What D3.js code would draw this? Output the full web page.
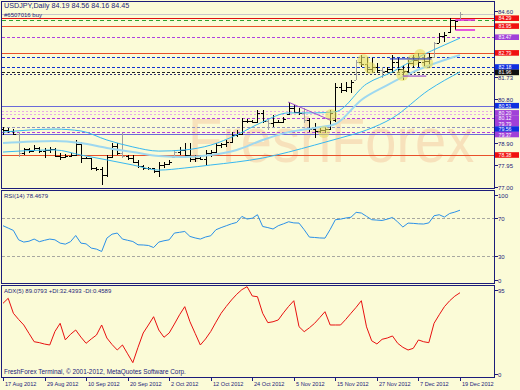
<!DOCTYPE html>
<html><head><meta charset="utf-8">
<script src="https://cdn.jsdelivr.net/npm/d3@7"></script>
<style>
html,body{margin:0;padding:0;background:#fbfbd7;}
svg{display:block;font-family:"Liberation Sans",Arial,sans-serif;}
</style></head><body>
<svg id="chart" width="520" height="390"></svg>
<script>
// ---- values ----
const dateLabels = ["17 Aug 2012","29 Aug 2012","10 Sep 2012","20 Sep 2012","2 Oct 2012","12 Oct 2012",
  "24 Oct 2012","5 Nov 2012","15 Nov 2012","27 Nov 2012","7 Dec 2012","19 Dec 2012"];

// daily bars: open, high, low, close
const ohlc = [
  [79.50,79.59,79.25,79.45],[79.45,79.55,79.33,79.40],[79.40,79.50,79.25,79.30],[79.30,79.37,78.30,78.45],
  [78.45,78.68,78.38,78.62],[78.62,78.68,78.47,78.55],[78.55,78.81,78.55,78.70],[78.70,78.73,78.47,78.55],
  [78.55,78.68,78.25,78.60],[78.60,78.74,78.48,78.65],[78.65,78.68,78.30,78.35],[78.35,78.47,78.17,78.30],
  [78.30,78.42,78.25,78.35],[78.35,78.47,78.30,78.40],[78.40,79.03,78.34,78.85],[78.85,78.94,78.04,78.25],
  [78.25,78.30,78.21,78.25],[78.25,78.25,77.73,77.80],[77.80,77.86,77.69,77.78],[77.78,77.86,77.09,77.50],
  [77.50,78.38,77.43,78.30],[78.30,78.90,78.25,78.75],[78.75,78.90,78.38,78.45],[78.45,79.33,78.25,78.35],
  [78.35,78.38,78.17,78.25],[78.25,78.38,78.04,78.10],[78.10,78.17,77.82,77.90],[77.90,77.95,77.73,77.80],
  [77.80,77.86,77.73,77.80],[77.80,77.82,77.60,77.70],[77.70,78.08,77.43,77.95],[77.95,78.08,77.82,78.00],
  [78.00,78.17,77.95,78.10],[78.30,78.60,78.25,78.50],[78.50,78.73,78.38,78.60],[78.60,78.90,78.30,78.40],
  [78.40,78.90,78.08,78.20],[78.20,78.38,78.08,78.25],[78.25,78.30,78.17,78.22],[78.22,78.60,77.95,78.45],
  [78.45,78.60,78.30,78.50],[78.50,78.90,78.47,78.80],[78.80,78.90,78.68,78.85],[78.85,79.03,78.73,78.95],
  [78.95,79.37,78.90,79.25],[79.25,79.46,79.16,79.30],[79.30,79.98,79.25,79.85],[79.85,79.94,79.76,79.85],
  [79.85,79.89,79.76,79.80],[79.80,80.32,79.76,80.20],[80.20,80.32,79.76,79.85],[79.85,79.89,79.46,79.75],
  [79.75,80.11,79.59,79.80],[79.80,79.89,79.76,79.82],[79.82,80.02,79.76,79.95],[80.15,80.67,80.11,80.40],
  [80.40,80.54,80.19,80.25],[80.25,80.41,80.11,80.20],[80.20,80.41,79.76,79.90],[79.90,79.98,79.37,79.50],
  [79.50,79.76,79.12,79.40],[79.40,79.59,79.33,79.45],[79.45,79.59,79.33,79.50],[79.50,80.32,79.46,80.20],
  [79.90,81.49,79.81,81.30],[81.30,81.49,81.06,81.20],[81.20,81.53,81.10,81.30],[81.30,81.62,81.06,81.55],
  [81.62,82.48,81.62,82.40],[82.40,82.70,82.18,82.30],[82.30,82.61,81.92,82.10],[82.10,82.57,81.97,82.20],
  [82.20,82.35,81.92,82.05],[82.05,82.18,81.71,82.00],[82.00,82.18,81.97,82.10],[82.10,82.70,81.97,82.40],
  [82.40,82.57,81.97,82.10],[82.10,82.27,81.62,82.00],[82.00,82.48,81.97,82.35],[82.35,82.70,82.14,82.50],
  [82.50,82.79,82.18,82.40],[82.40,82.70,82.18,82.45],[82.45,82.79,82.14,82.60],[82.60,83.26,82.57,83.20],
  [83.20,83.65,83.22,83.50],[83.50,83.69,83.26,83.55],[83.70,84.30,83.65,84.20],[84.20,84.21,83.78,84.15],
  [84.19,84.56,84.16,84.45]
];
const grayBars = [3, 23, 33, 51, 58, 68, 73, 83, 88];

// envelope lines as [bar, price]
const bandUpper = [[0,79.37],[10,79.50],[15,79.42],[20,79.03],[25,78.73],[30,78.55],[35,78.60],[40,78.81],
  [45,79.25],[50,79.81],[55,80.20],[60,80.20],[64,80.25],[70,81.45],[75,81.97],[80,82.61],[85,83.13],[88,83.43]];
const bandMid = [[0,78.90],[10,78.99],[15,78.90],[20,78.68],[25,78.51],[30,78.34],[35,78.30],[40,78.38],
  [45,78.60],[50,79.03],[55,79.37],[60,79.55],[64,79.72],[69,80.76],[74,81.40],[79,81.97],[88,82.70]];
const bandLower = [[0,78.51],[10,78.60],[15,78.38],[20,78.17],[25,77.95],[30,77.73],[35,77.82],[40,77.95],
  [45,78.08],[50,78.25],[55,78.51],[60,78.81],[65,79.12],[70,79.46],[75,79.98],[82,81.19],[88,81.97]];

const rsi = [62,59.5,57,47,44.6,45.5,47.8,45,46.5,47.8,47,43.5,42.4,45,51.6,43.5,42.7,38.2,37.1,34.6,
  48.8,53,54.2,47.8,46.5,45.2,41.7,41.5,41,38.8,44.6,46,47,54.2,55,55.9,50.6,49,47.8,50,51.3,57.7,60,62,
  64,65.5,71.9,69.1,70,73.7,61.2,60,58.5,62,64,66.2,65,64.8,57.7,49.9,49.5,49,48.8,58,68.4,69,70.2,71,
  76.2,75.5,72,68.4,68,67.6,69,70.8,66,60.6,64.8,64.5,64,63.8,65,72.6,73.7,71.2,75,76.5,78.5];
const adx = [80.3,85.7,69.6,63,57,48,39,38,36.5,35.5,50,58.8,41,47,51.6,44,37.3,42,46.2,57,43,36,30.1,
  35.5,26,16.5,33,48.4,57,65.9,51.6,43.8,48.4,58,68,76.7,60.5,48,35.5,42,50,60,69.6,77,83.9,90,95,98.2,
  88.2,87.4,69.6,59.5,60.5,62.4,70,77,83.1,55.2,49.8,54,58.8,65,71.3,57,57,57,63,69.6,76,83.1,55,40,
  36.6,41.6,43,45.2,37.3,33,30.1,31.9,40.9,39,38,58.8,68,76.7,83,88,91.7];

const priceTicks = [84.60, 81.73, 80.80, 78.90, 77.95, 77.00];
const rsiTicks = [100, 70, 30, 0];
const adxTicks = [95, 0];
// horizontal levels: [price, kind]
const levels = [[84.45,"bid"],[84.29,"red"],[84.22,"green"],[83.95,"orange"],[83.47,"violet"],[82.79,"orange"],
  [82.60,"blueDash"],[82.18,"blueDash"],[81.96,"blackDash"],[81.88,"navyDash"],[80.51,"slate"],[80.29,"pink"],
  [80.15,"pink"],[79.97,"violet"],[79.58,"greyDash"],[79.36,"violet"],[79.28,"slate"],[78.38,"orange"]];
// price tags on the right scale: [price, kind]
const tags = [[84.29,"red"],[83.95,"red"],[83.47,"violet"],[82.79,"red"],[82.18,"blue"],[81.96,"black"],
  [80.51,"blue"],[80.20,"violet"],[80.12,"violet"],[79.79,"violet"],[79.56,"blue"],[79.37,"violet"],[78.38,"red"]];
// highlighted deals: [bar, price]
const deals = [[69.4,82.48],[70.7,82.14],[76.9,81.84],[79,82.48],[80.3,82.70],[81.7,82.35],[63.2,80.11],[61.8,79.37]];
// short order segments: [fromBar, toBar, price, kind]
const segments = [[87.1,90.9,84.21,"magenta"],[87.1,90.9,83.78,"magenta"],[74.5,82.5,82.53,"blue"],
  [77,81.5,81.79,"violet"],[54.9,63,80.67,"trend"]];

// ---- layout ----
const L = 1.5, R = 494.5;
const svg = d3.select("#chart");
const x = d3.scaleLinear().domain([0, 88]).range([3, 460]);
const yP = d3.scaleLinear().domain([77, 84.6]).range([187, 11]);
const yR = d3.scaleLinear().domain([0, 100]).range([284, 190]);
const yA = d3.scaleLinear().domain([0, 100]).range([378, 285]);
const navy = "#1c1c7a";

const lvlStyle = {
  bid: ["#c8c8c8", null, 1], red: ["#e01010", null, 1], green: ["#30a030", "4,3", 1],
  orange: ["#e8502a", null, 1], violet: ["#b040e0", "3,2", 1], blueDash: ["#1030d0", "3,2", 1],
  blackDash: ["#202020", "3,2", 1], navyDash: ["#303070", "2,2", 1], slate: ["#6a6ad8", null, 1],
  pink: ["#e8a8e8", "2,2", 1], greyDash: ["#9090c0", "3,2", 1]
};
const tagFill = { red: "#f01010", violet: "#a040d8", blue: "#1030e0", black: "#101010" };

svg.append("rect").attr("width", 520).attr("height", 390).attr("fill", "#fbfbd7");

// watermark
svg.append("text").attr("transform", "translate(188,162) scale(1,1.12)").attr("font-size", 56)
  .attr("font-family", "'Liberation Sans',Arial,sans-serif")
  .attr("fill", "#f5c9a0").attr("opacity", 0.5).text("FreshForex");

const main = svg.append("g").attr("shape-rendering", "crispEdges");

// level lines
main.selectAll("line.lvl").data(levels).join("line")
  .attr("x1", L).attr("x2", R)
  .attr("y1", d => Math.round(yP(d[0])) + 0.5).attr("y2", d => Math.round(yP(d[0])) + 0.5)
  .attr("stroke", d => lvlStyle[d[1]][0])
  .attr("stroke-dasharray", d => lvlStyle[d[1]][1])
  .attr("stroke-width", d => lvlStyle[d[1]][2]);

// envelope lines
const bandLine = d3.line().x(d => x(d[0])).y(d => yP(d[1])).curve(d3.curveMonotoneX);
[[bandUpper, "#38b8f0", 1], [bandMid, "#9ed8f0", 2], [bandLower, "#38b8f0", 1]].forEach(([pts, c, w]) => {
  svg.append("path").attr("d", bandLine(pts)).attr("fill", "none").attr("stroke", c).attr("stroke-width", w);
});

// deal highlights
svg.selectAll("circle.deal").data(deals).join("circle")
  .attr("cx", d => x(d[0])).attr("cy", d => yP(d[1])).attr("r", 6)
  .attr("fill", "#e8e060").attr("opacity", 0.6);

// segments
const segColor = { magenta: "#e020e0", blue: "#1020c0", violet: "#9030d0", trend: "#a050d0" };
svg.selectAll("line.seg").data(segments).join("line")
  .attr("x1", d => x(d[0])).attr("x2", d => x(d[1]))
  .attr("y1", d => yP(d[2])).attr("y2", d => d[3] === "trend" ? yP(79.89) : yP(d[2]))
  .attr("stroke", d => segColor[d[3]]).attr("stroke-width", d => d[3] === "magenta" ? 1.5 : 1);

// bars
const bars = main.selectAll("g.bar").data(ohlc).join("g")
  .attr("stroke", (d, i) => grayBars.includes(i) ? "#a0a0a0" : "#000");
bars.append("line").attr("x1", (d, i) => Math.round(x(i)) + 0.5).attr("x2", (d, i) => Math.round(x(i)) + 0.5)
  .attr("y1", d => yP(d[1])).attr("y2", d => yP(d[2]));
bars.append("line").attr("x1", (d, i) => Math.round(x(i)) - 2).attr("x2", (d, i) => Math.round(x(i)))
  .attr("y1", d => Math.round(yP(d[0])) + 0.5).attr("y2", d => Math.round(yP(d[0])) + 0.5);
bars.append("line").attr("x1", (d, i) => Math.round(x(i)) + 1).attr("x2", (d, i) => Math.round(x(i)) + 3)
  .attr("y1", d => Math.round(yP(d[3])) + 0.5).attr("y2", d => Math.round(yP(d[3])) + 0.5);

// RSI panel
main.selectAll("line.rl").data([70, 30]).join("line")
  .attr("x1", L).attr("x2", R).attr("y1", d => Math.round(yR(d)) + 0.5).attr("y2", d => Math.round(yR(d)) + 0.5)
  .attr("stroke", "#a8a8a0").attr("stroke-dasharray", "3,2");
svg.append("path").datum(rsi)
  .attr("d", d3.line().x((d, i) => x(i)).y(d => yR(d)))
  .attr("fill", "none").attr("stroke", "#2a90e8").attr("stroke-width", 1);

// ADX panel
svg.append("path").datum(adx)
  .attr("d", d3.line().x((d, i) => x(i)).y(d => yA(d)))
  .attr("fill", "none").attr("stroke", "#e81010").attr("stroke-width", 1);

// panel frames
[[1, 188], [190, 283], [285, 377]].forEach(([t, b]) => {
  main.append("rect").attr("x", L).attr("y", t + 0.5).attr("width", R - L).attr("height", b - t)
    .attr("fill", "none").attr("stroke", navy);
});

// right scales
const txt = (sel) => sel.attr("font-size", 6).attr("fill", navy);
const axisR = (ticks, sc, fmt) => {
  ticks.forEach(v => {
    const yy = Math.round(sc(v));
    main.append("line").attr("x1", R).attr("x2", R + 3).attr("y1", yy + 0.5).attr("y2", yy + 0.5).attr("stroke", navy);
    svg.append("text").attr("x", 498).attr("y", yy + 2.5).text(fmt(v)).call(txt);
  });
};
axisR(priceTicks, yP, d3.format(".2f"));
axisR(rsiTicks, v => v === 0 ? yR(v) - 4 : v === 100 ? yR(v) + 5 : yR(v), d3.format("d"));
axisR(adxTicks, v => v === 0 ? yA(v) - 4 : yA(v), d3.format("d"));

// price tags, nudged apart where they crowd
let lastY = -10;
const tagY = tags.map(d => yP(d[0])).sort((a, b) => a - b).map(v => (lastY = Math.max(v, lastY + 5.4)));
const tagPos = new Map(tags.slice().sort((a, b) => b[0] - a[0]).map((d, k) => [d, tagY[k]]));
const tg = svg.selectAll("g.tag").data(tags).join("g")
  .attr("transform", d => `translate(495,${(tagPos.get(d) - 2.8).toFixed(1)})`);
tg.append("rect").attr("width", 24).attr("height", 5.6).attr("fill", d => tagFill[d[1]]);
tg.append("text").attr("x", 3.5).attr("y", 4.8).attr("font-size", 5.2).attr("fill", "#fff").text(d => d[0].toFixed(2));

// date axis
dateLabels.forEach((lab, k) => {
  const xx = Math.round(x(k * 8));
  main.append("line").attr("x1", xx + 0.5).attr("x2", xx + 0.5).attr("y1", 377).attr("y2", 381).attr("stroke", navy);
  svg.append("text").attr("x", xx + 2).attr("y", 386).attr("font-size", 5.6).attr("fill", navy).text(lab);
});

// captions
svg.append("text").attr("x", 4).attr("y", 8).attr("font-size", 7.2).attr("fill", navy)
  .text("USDJPY,Daily  84.19 84.56 84.16 84.45");
svg.append("text").attr("x", 4).attr("y", 17).attr("font-size", 6).attr("fill", navy).text("#6507016 buy");
svg.append("text").attr("x", 4).attr("y", 198).attr("font-size", 6).attr("fill", navy).text("RSI(14) 78.4679");
svg.append("text").attr("x", 4).attr("y", 293).attr("font-size", 6).attr("fill", navy)
  .text("ADX(5) 89.0793 +DI:32.4393 -DI:0.4589");
svg.append("text").attr("x", 4).attr("y", 374).attr("font-size", 6.4).attr("fill", navy)
  .text("FreshForex Terminal, © 2001-2012, MetaQuotes Software Corp.");
</script>
</body></html>
